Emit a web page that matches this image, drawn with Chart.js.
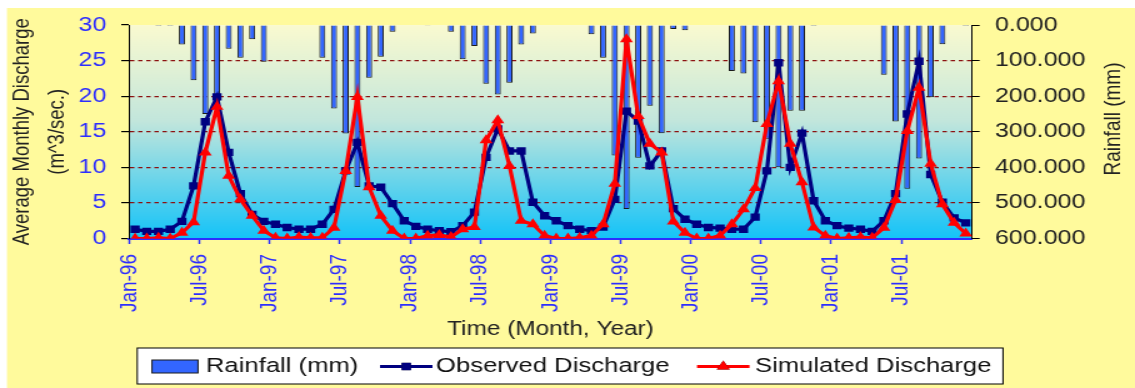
<!DOCTYPE html>
<html>
<head>
<meta charset="utf-8">
<script src="https://cdn.jsdelivr.net/npm/chart.js@4/dist/chart.umd.min.js"></script>
<style>
  body { margin: 0; background: #ffffff; }
  /* drawn narrow, shown wide: gives the wide lettering of the old spreadsheet export */
  #flowChart { display: block; width: 1135px !important; height: 388px !important; }
</style>
</head>
<body>
<canvas id="flowChart" width="908" height="388"></canvas>
<script>
const years = ["96", "97", "98", "99", "00", "01"];
const monthNames = ["Jan", "Feb", "Mar", "Apr", "May", "Jun", "Jul", "Aug", "Sep", "Oct", "Nov", "Dec"];
const months = years.flatMap((y) => monthNames.map((m) => `${m}-${y}`));

// monthly rainfall (mm), Jan-96 .. Dec-01
const rainfall = [
  0, 0, 3, 3, 55, 155, 250, 215, 67, 92, 40, 103,
  0, 0, 0, 0, 92, 235, 305, 455, 148, 89, 19, 0,
  0, 2, 0, 19, 96, 59, 165, 195, 162, 55, 24, 0,
  0, 0, 0, 26, 92, 367, 517, 373, 227, 304, 11, 15,
  0, 0, 0, 129, 136, 273, 320, 400, 241, 241, 3, 0,
  0, 0, 0, 0, 140, 271, 460, 375, 203, 54, 0, 3,
];

// average monthly discharge (m^3/sec.)
const observed = [
  1.3, 1.0, 1.0, 1.3, 2.4, 7.4, 16.4, 19.9, 12.1, 6.3, 3.4, 2.4,
  2.0, 1.55, 1.3, 1.3, 2.0, 4.1, 9.5, 13.5, 7.4, 7.2, 4.9, 2.5,
  1.7, 1.3, 1.1, 0.95, 1.8, 3.7, 11.4, 15.4, 12.3, 12.3, 5.1, 3.2,
  2.5, 1.8, 1.3, 1.1, 1.6, 5.5, 17.9, 16.5, 10.2, 12.3, 4.2, 2.7,
  2.0, 1.55, 1.45, 1.3, 1.3, 3.0, 9.5, 24.7, 10.0, 14.8, 5.3, 2.5,
  1.8, 1.45, 1.3, 1.0, 2.5, 6.3, 17.5, 24.9, 9.0, 5.1, 2.9, 2.2,
];

const simulated = [
  0, 0, 0.1, 0, 0.8, 2.3, 12.1, 18.5, 8.8, 5.5, 3.2, 1.1,
  0.1, 0, 0.2, 0.1, 0.1, 1.5, 9.5, 19.9, 7.2, 3.2, 1.1, 0,
  0, 0.4, 0.5, 0.2, 1.3, 1.6, 13.8, 16.6, 10.2, 2.5, 2.0, 0.4,
  0, 0, 0.1, 0.4, 2.0, 7.7, 28.0, 17.2, 13.3, 12.1, 2.4, 0.8,
  0, 0, 0.4, 2.0, 4.1, 7.1, 16.1, 22.1, 13.3, 7.9, 1.55, 0.4,
  0, 0.1, 0.2, 0.1, 1.5, 5.4, 15.1, 21.2, 10.5, 4.8, 2.2, 0.7,
];

const FONT = "'Liberation Sans', Arial, sans-serif";
const BLUE_TEXT = "#2d2dff";
Chart.defaults.font.family = FONT;

// yellow page + sky gradient behind the plot
const backdrop = {
  id: "backdrop",
  beforeDraw(chart) {
    const { ctx, chartArea: a, width, height } = chart;
    ctx.save();
    ctx.fillStyle = "#ffffff";
    ctx.fillRect(0, 0, width, height);
    ctx.fillStyle = "#fffa9c";
    ctx.fillRect(5.6, 8, width, height);
    const g = ctx.createLinearGradient(0, a.top, 0, a.bottom);
    g.addColorStop(0, "#fafad0");
    g.addColorStop(0.45, "#c2e6dc");
    g.addColorStop(1, "#14c3f8");
    ctx.fillStyle = g;
    ctx.fillRect(a.left, a.top, a.right - a.left, a.bottom - a.top);
    ctx.restore();
  },
};

// right axis title (reads bottom to top) and the boxed legend
const extras = {
  id: "extras",
  afterDraw(chart) {
    const { ctx } = chart;
    ctx.save();
    ctx.fillStyle = "#222";
    ctx.font = `19px ${FONT}`;
    ctx.textAlign = "center";
    ctx.textBaseline = "middle";
    ctx.translate(890.7, 119);
    ctx.rotate(-Math.PI / 2);
    ctx.fillText("Rainfall (mm)", 0, 0);
    ctx.restore();

    // legend box
    ctx.save();
    ctx.fillStyle = "#ffffff";
    ctx.strokeStyle = "#000";
    ctx.lineWidth = 1;
    ctx.fillRect(109.8, 348, 692.6, 36);
    ctx.strokeRect(109.8, 348, 692.6, 36);

    const midY = 366.5;
    const items = [
      { x: 121.6, textX: 164.8 },
      { x: 304, textX: 348.8 },
      { x: 557.6, textX: 604 },
    ];
    chart.data.datasets.forEach((ds, i) => {
      const it = items[i];
      if (ds.type === "line") {
        ctx.strokeStyle = ds.borderColor;
        ctx.lineWidth = 3.2;
        ctx.beginPath();
        ctx.moveTo(it.x, midY);
        ctx.lineTo(it.x + 42, midY);
        ctx.stroke();
        Chart.helpers.drawPoint(
          ctx,
          { pointStyle: ds.pointStyle, radius: ds.pointRadius, borderWidth: 0 },
          it.x + 21,
          midY
        );
        ctx.fillStyle = ds.borderColor;
        ctx.fill();
      } else {
        ctx.fillStyle = ds.backgroundColor;
        ctx.strokeStyle = ds.borderColor;
        ctx.fillRect(it.x, midY - 6.5, 36.8, 13);
        ctx.strokeRect(it.x, midY - 6.5, 36.8, 13);
      }
      ctx.fillStyle = "#111";
      ctx.font = `20.5px ${FONT}`;
      ctx.textAlign = "left";
      ctx.textBaseline = "middle";
      ctx.fillText(ds.label, it.textX, midY);
    });
    ctx.restore();
  },
};

new Chart(document.getElementById("flowChart"), {
  type: "bar",
  data: {
    labels: months,
    datasets: [
      {
        label: "Rainfall (mm)",
        data: rainfall,
        yAxisID: "y1",
        backgroundColor: "#3366ff",
        borderColor: "#1a1a1a",
        borderWidth: 1,
        barPercentage: 0.52,
        categoryPercentage: 1,
        order: 3,
      },
      {
        type: "line",
        label: "Observed Discharge",
        data: observed,
        yAxisID: "y",
        borderColor: "#000080",
        backgroundColor: "#000080",
        borderWidth: 3.2,
        pointStyle: "rect",
        pointRadius: 5.2,
        pointBorderWidth: 0,
        tension: 0,
        order: 2,
      },
      {
        type: "line",
        label: "Simulated Discharge",
        data: simulated,
        yAxisID: "y",
        borderColor: "#ff0000",
        backgroundColor: "#ff0000",
        borderWidth: 3.2,
        pointStyle: "triangle",
        pointRadius: 6,
        pointBorderWidth: 0,
        tension: 0,
        order: 1,
      },
    ],
  },
  options: {
    responsive: false,
    animation: false,
    devicePixelRatio: 1,
    layout: { padding: { top: 25, left: 0, right: 0, bottom: 0 } },
    plugins: {
      legend: { display: false },
      tooltip: { enabled: false },
    },
    scales: {
      x: {
        offset: true,
        afterFit: (s) => { s.height = 149.5; },
        grid: {
          offset: true,
          drawOnChartArea: false,
          tickLength: 5.5,
          tickWidth: 1.5,
          tickColor: (c) => (c.index % 6 === 0 ? BLUE_TEXT : "transparent"),
        },
        border: { color: BLUE_TEXT, width: 2 },
        ticks: {
          autoSkip: false,
          minRotation: 90,
          maxRotation: 90,
          padding: 10,
          labelOffset: -4.7,
          color: BLUE_TEXT,
          font: { size: 19 },
          callback: (v, i) => (i % 6 === 0 ? months[i] : ""),
        },
        title: {
          display: true,
          text: "Time (Month, Year)",
          color: "#222",
          font: { size: 19.5 },
          padding: { top: 0, bottom: 46.3 },
        },
      },
      y: {
        position: "left",
        min: 0,
        max: 30,
        afterFit: (s) => { s.width = 103.4; },
        grid: {
          color: (c) => (c.tick && c.tick.value > 0 && c.tick.value < 30 ? "#8b1010" : "transparent"),
          lineWidth: 1.2,
          tickColor: "#000",
          tickLength: 6.4,
        },
        border: { color: "#000", width: 1, dash: [3.5, 3] },
        ticks: {
          stepSize: 5,
          padding: 12,
          color: BLUE_TEXT,
          font: { size: 20 },
        },
        title: {
          display: true,
          text: ["Average Monthly Discharge", "(m^3/sec.)"],
          color: "#222",
          font: { size: 18.5, lineHeight: 1.5 },
          padding: { top: 4.5, bottom: 0 },
        },
      },
      y1: {
        position: "right",
        reverse: true,
        min: 0,
        max: 600,
        afterFit: (s) => { s.width = 130.7; },
        grid: {
          drawOnChartArea: false,
          tickColor: "#000",
          tickLength: 6.4,
        },
        border: { color: "#000", width: 1 },
        ticks: {
          stepSize: 100,
          padding: 12.3,
          color: "#222",
          font: { size: 20 },
          callback: (v) => Number(v).toFixed(3),
        },
      },
    },
  },
  plugins: [backdrop, extras],
});
</script>
</body>
</html>
